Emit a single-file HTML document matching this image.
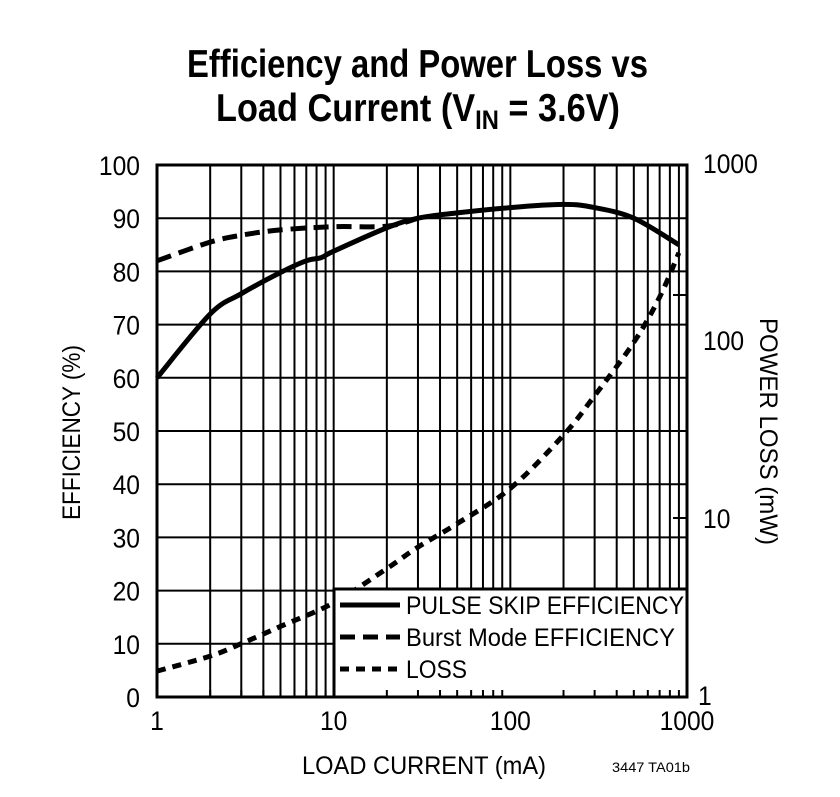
<!DOCTYPE html>
<html><head><meta charset="utf-8"><style>
body{margin:0;background:#fff;}
svg{display:block;font-family:"Liberation Sans Narrow","Liberation Sans",sans-serif;}
</style></head><body>
<svg id="s" width="840" height="797" viewBox="0 0 840 797" xmlns="http://www.w3.org/2000/svg">
<text x="187" y="77" font-size="39" font-weight="bold" textLength="461" lengthAdjust="spacingAndGlyphs">Efficiency and Power Loss vs</text>
<text x="216" y="121" font-size="39" font-weight="bold" textLength="404" lengthAdjust="spacingAndGlyphs">Load Current (V<tspan font-size="27" dy="8">IN</tspan><tspan dy="-8"> = 3.6V)</tspan></text>
<g id="grid" stroke="#000" stroke-width="2"></g>
<g id="curves" fill="none" stroke="#000" stroke-width="5"></g>
<rect x="334" y="589" width="353" height="108" fill="#fff" stroke="#000" stroke-width="3"/>
<g id="ticks" stroke="#000" stroke-width="2"></g>
<rect x="157" y="165" width="530" height="532" fill="none" stroke="#000" stroke-width="3"/>
<g font-size="25">
<line x1="340" y1="605" x2="400" y2="605" stroke="#000" stroke-width="5"/>
<line x1="340" y1="637" x2="400" y2="637" stroke="#000" stroke-width="5" stroke-dasharray="15,8"/>
<line x1="340" y1="669" x2="400" y2="669" stroke="#000" stroke-width="5" stroke-dasharray="9,7"/>
<text x="406" y="614" textLength="278" lengthAdjust="spacingAndGlyphs">PULSE SKIP EFFICIENCY</text>
<text x="406" y="646" textLength="269" lengthAdjust="spacingAndGlyphs">Burst Mode EFFICIENCY</text>
<text x="406" y="678" textLength="61" lengthAdjust="spacingAndGlyphs">LOSS</text>
</g>
<g font-size="27" id="labels"></g>
<text x="302" y="774" font-size="25" textLength="244" lengthAdjust="spacingAndGlyphs">LOAD CURRENT (mA)</text>
<text x="612" y="772" font-size="14" textLength="78" lengthAdjust="spacingAndGlyphs">3447 TA01b</text>
<text transform="translate(80,520) rotate(-90)" font-size="25" textLength="175" lengthAdjust="spacingAndGlyphs">EFFICIENCY (%)</text>
<text transform="translate(760,318) rotate(90)" font-size="25" textLength="227" lengthAdjust="spacingAndGlyphs">POWER LOSS (mW)</text>
</svg>
<script>
var L=157,R=687,T=165,B=697,D=(R-L)/3;
function X(v){return L+Math.log10(v)*D}
function Y(e){return B-e*(B-T)/100}
function YL(m){return B-Math.log10(m)*(B-T)/3}
var ns="http://www.w3.org/2000/svg";
function el(p,t,a){var e=document.createElementNS(ns,t);for(var k in a)e.setAttribute(k,a[k]);p.appendChild(e);return e}
var g=document.getElementById('grid'),tk=document.getElementById('ticks'),lb=document.getElementById('labels');
for(var d=0;d<3;d++)for(var i=2;i<=9;i++){var x=X(i*Math.pow(10,d));el(g,'line',{x1:x,y1:T,x2:x,y2:B});}
el(g,'line',{x1:X(10),y1:T,x2:X(10),y2:B});el(g,'line',{x1:X(100),y1:T,x2:X(100),y2:B});
for(var e=10;e<100;e+=10)el(g,'line',{x1:L,y1:Y(e),x2:R,y2:Y(e)});
[295,518].forEach(function(y){el(tk,'line',{x1:R-14,y1:y,x2:R,y2:y});});
for(var d=0;d<3;d++)for(var i=2;i<=9;i++){var x=X(i*Math.pow(10,d));el(tk,'line',{x1:x,y1:B-7,x2:x,y2:B});}
function txt(x,y,s,anchor,w){var t=el(lb,'text',{x:x,y:y,'text-anchor':anchor,textLength:w,lengthAdjust:'spacingAndGlyphs'});t.textContent=s;}
for(var e=0;e<=100;e+=10){var s=String(e);txt(140,Y(e)+10,s,'end',s.length*13.7);}
[[1,'1'],[10,'10'],[100,'100'],[1000,'1000']].forEach(function(a){txt(X(a[0]),730,a[1],'middle',a[1].length*13.7);});
[[1000,'1000',173,703],[100,'100',350,703],[10,'10',528,703],[1,'1',705,698]].forEach(function(a){txt(a[3],a[2],a[1],'start',a[1].length*13.7);});
function smooth(pts,f){var P=pts.map(function(p){return [X(p[0]),f(p[1])]});var s='M'+P[0][0].toFixed(1)+','+P[0][1].toFixed(1);
for(var i=0;i<P.length-1;i++){var p0=P[i-1]||P[i],p1=P[i],p2=P[i+1],p3=P[i+2]||P[i+1];
var c1=[p1[0]+(p2[0]-p0[0])/6,p1[1]+(p2[1]-p0[1])/6],c2=[p2[0]-(p3[0]-p1[0])/6,p2[1]-(p3[1]-p1[1])/6];
s+='C'+c1[0].toFixed(1)+','+c1[1].toFixed(1)+' '+c2[0].toFixed(1)+','+c2[1].toFixed(1)+' '+p2[0].toFixed(1)+','+p2[1].toFixed(1);}return s}
var c=document.getElementById('curves');
var ps=[[1,60],[2,72],[3,75.8],[5,79.8],[7,82],[8.5,82.6],[10,83.8],[20,88.2],[30,90],[50,91],[100,92],[200,92.6],[300,92],[500,90],[900,85]];
var bu=[[1,82],[2,85.5],[3,86.8],[5,87.8],[10,88.4],[20,88.5],[30,90]];
var lo=[[1,1.4],[2,1.7],[3,2],[5,2.5],[10,3.4],[20,5.3],[30,7],[50,9.5],[100,15],[200,30],[300,50],[500,100],[700,180],[900,320]];
el(c,'path',{d:smooth(ps,Y)});
el(c,'path',{d:smooth(bu,Y),'stroke-dasharray':'15,8'});
el(c,'path',{d:smooth(lo,YL),'stroke-dasharray':'9,7'});
</script>
</body></html>
